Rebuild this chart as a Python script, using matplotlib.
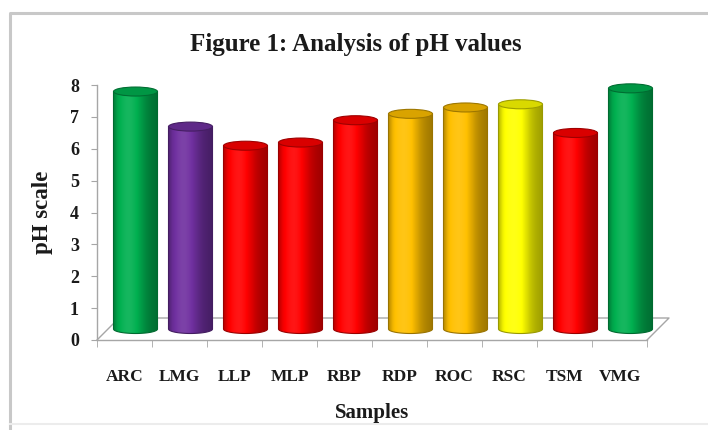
import numpy as np
import matplotlib
matplotlib.use("Agg")
import matplotlib.pyplot as plt
from matplotlib.path import Path
from matplotlib.patches import PathPatch, Ellipse
from matplotlib.colors import to_rgb

# pH readings per sample
samples = ["ARC", "LMG", "LLP", "MLP", "RBP", "RDP", "ROC", "RSC", "TSM", "VMG"]
ph_values = [7.45, 6.35, 5.75, 5.85, 6.55, 6.75, 6.95, 7.05, 6.15, 7.55]
bar_colors = ["#00B050", "#7030A0", "#FF0000", "#FF0000", "#FF0000",
              "#FFC000", "#FFC000", "#FFFF00", "#FF0000", "#00B050"]
y_ticks = [0, 1, 2, 3, 4, 5, 6, 7, 8]

W, H = 708, 430
fig = plt.figure(figsize=(W / 100, H / 100), dpi=100)
fig.patch.set_facecolor("white")

serif = ["Liberation Serif", "DejaVu Serif"]


def fx(px):
    return px / W


def fy(py):
    return 1 - py / H


# depth offset of the pseudo-3D box (pixels)
dx, dy = 11, 11
# front plane of the box
fl, fr, fb, ft = 97, 647, 340, 85
px_per_unit = (fb - ft) / 8.0

# outer chart border
border = fig.add_axes([0, 0, 1, 1], zorder=0)
border.set_xlim(0, W)
border.set_ylim(H, 0)
border.axis("off")
border.plot([10, 10, W + 5], [H + 5, 13, 13], color="#c8c8c8", lw=2.2)
border.plot([10, W + 5], [424, 424], color="#ececec", lw=1.5)

# front axes: carries the visible axis lines, ticks and labels
front = fig.add_axes([fx(fl), fy(fb), fx(fr - fl), fy(ft) - fy(fb)], zorder=1)
front.set_xlim(-0.5, len(samples) - 0.5)
front.set_ylim(0, 8)
front.patch.set_alpha(0)
for s in ["top", "right"]:
    front.spines[s].set_visible(False)
for s in ["left", "bottom"]:
    front.spines[s].set_color("#a6a6a6")
    front.spines[s].set_linewidth(1.0)
front.set_yticks(y_ticks)
front.set_yticklabels([str(t) for t in y_ticks], family=serif,
                      fontweight="bold", fontsize=13, color="#1a1a1a")
front.set_xticks(np.arange(len(samples)))
front.set_xticklabels(samples, family=serif, fontweight="bold",
                      fontsize=12.5, color="#1a1a1a")
front.tick_params(axis="x", length=0, pad=21)
front.set_xticks(np.arange(len(samples) + 1) - 0.5, minor=True)
front.tick_params(axis="x", which="minor", length=5, color="#a6a6a6", direction="out")
front.tick_params(axis="y", length=4, color="#a6a6a6", pad=9)
front.set_xlabel("Samples", family=serif, fontweight="bold", fontsize=15,
                 labelpad=13, color="#1a1a1a")
front.set_ylabel("pH scale", family=serif, fontweight="bold", fontsize=16.5,
                 labelpad=12, color="#1a1a1a")

# floor outline of the box (back edge and side diagonals)
border.plot([fl, fl + 2 * dx, fr + 2 * dx, fr],
            [fb, fb - 2 * dy, fb - 2 * dy, fb],
            color="#a6a6a6", lw=1.0, zorder=1)

# bar axes on the mid-depth plane (extended below zero for the bottom rims)
y_lo = -0.5
ax = fig.add_axes([fx(fl + dx), fy(fb - dy - y_lo * px_per_unit), fx(fr - fl),
                   (8 - y_lo) * px_per_unit / H], zorder=2)
ax.set_xlim(-0.5, len(samples) - 0.5)
ax.set_ylim(y_lo, 8)
ax.axis("off")
ax.patch.set_alpha(0)

bars = ax.bar(np.arange(len(samples)), ph_values, width=0.8,
              color="none", edgecolor="none")

ry = 4.5 / px_per_unit  # ellipse half-height in data units

# horizontal shading profile of a lit cylinder
u = np.linspace(0, 1, 200)
shade = 0.72 + 0.42 * np.exp(-((u - 0.33) / 0.3) ** 2)
shade = shade - 0.1 * np.clip((u - 0.65) / 0.35, 0, 1) - 0.1 * np.clip((0.08 - u) / 0.08, 0, 1)


def shaded(rgb, s):
    rgb = np.array(rgb)
    out = np.where(s >= 1, rgb + (1 - rgb) * (s - 1) * 0.6, rgb * s)
    return np.clip(out, 0, 1)


for bar, col in zip(bars, bar_colors):
    x0 = bar.get_x()
    w = bar.get_width()
    h = bar.get_height()
    xc = x0 + w / 2
    rgb = to_rgb(col)

    # side of the cylinder: rectangle plus lower half ellipse
    t = np.linspace(np.pi, 2 * np.pi, 60)
    arc = np.column_stack([xc + (w / 2) * np.cos(t), ry * np.sin(t)])
    verts = np.vstack([[x0, h], [x0, 0], arc, [x0 + w, h], [x0, h]])
    codes = [Path.MOVETO] + [Path.LINETO] * (len(verts) - 2) + [Path.CLOSEPOLY]
    body = PathPatch(Path(verts, codes), facecolor="none",
                     edgecolor=shaded(rgb, 0.6), lw=0.8, zorder=3)
    ax.add_patch(body)

    img = np.array([[shaded(rgb, s) for s in shade]])
    im = ax.imshow(img, extent=(x0, x0 + w, -ry, h), aspect="auto",
                   interpolation="bilinear", zorder=2.5)
    im.set_clip_path(body)

    # top cap
    cap = Ellipse((xc, h), w, 2 * ry, facecolor=shaded(rgb, 0.85),
                  edgecolor=shaded(rgb, 0.62), lw=0.8, zorder=4)
    ax.add_patch(cap)

fig.text(fx(356), fy(45), "Figure 1: Analysis of pH values", family=serif,
         fontweight="bold", fontsize=18, ha="center", va="center",
         color="#1a1a1a")

fig.savefig("out.png", dpi=100)
